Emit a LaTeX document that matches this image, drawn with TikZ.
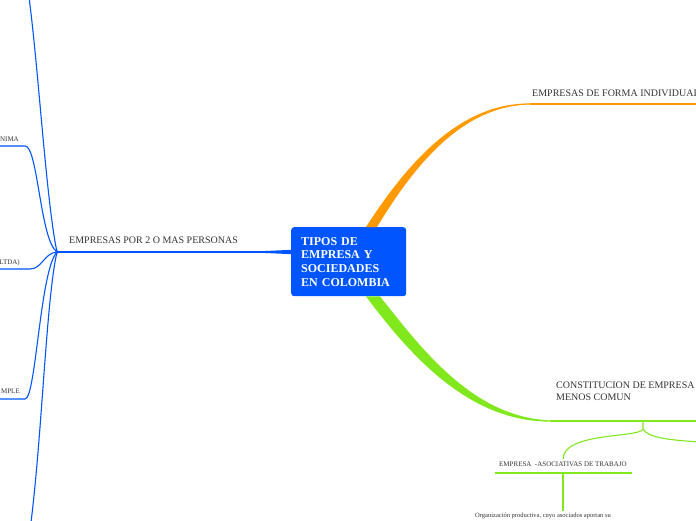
\documentclass[tikz,border=0pt]{standalone}
\usepackage{fontspec}
\setmainfont{Liberation Serif}
\usetikzlibrary{positioning,calc}
\definecolor{mapblue}{RGB}{0,85,255}
\definecolor{maporange}{RGB}{255,153,0}
\definecolor{mapgreen}{RGB}{130,232,30}
\definecolor{maptext}{RGB}{51,51,51}
\tikzset{
  rootbox/.style={fill=mapblue, rounded corners=3pt, text=white, align=left,
    font=\fontsize{12}{13.7}\selectfont\bfseries, text width=95pt,
    minimum height=69pt, inner xsep=10pt, anchor=north west},
  mainlabel/.style={text=maptext, font=\fontsize{10}{12.7}\selectfont,
    inner sep=0pt, anchor=base west, align=left},
  sublabel/.style={text=maptext, font=\fontsize{7}{8}\selectfont, inner sep=0pt},
  notelabel/.style={text=maptext, font=\fontsize{6.5}{7.5}\selectfont, inner sep=0pt, anchor=base west},
  blueline/.style={mapblue, line width=1.1pt},
  orangeline/.style={maporange, line width=1.1pt},
  greenline/.style={mapgreen, line width=1.1pt},
}

\begin{document}
\begin{tikzpicture}[x=1pt, y=-1pt]
  \useasboundingbox (0,0) rectangle (696,520);
  \clip (0,0) rectangle (696,520);

  % central topic
  \node[rootbox] (root) at (291,227) {TIPOS DE\\EMPRESA Y\\SOCIEDADES\\EN COLOMBIA};

  % left branch
  \coordinate (hub) at (57,252);
  \node[mainlabel] (multi) at (69,243) {EMPRESAS POR 2 O MAS PERSONAS};
  \draw[blueline] (hub) -- (hub -| root.west);
  \fill[mapblue] ($(hub -| root.west)+(-48,0)$) -- ($(hub -| root.west)+(1,-2.2)$)
    -- ($(hub -| root.west)+(1,2.2)$) -- cycle;
  \fill[mapblue] (hub) circle[radius=1.8pt];

  \node[sublabel, anchor=base east] (anon) at (19,141) {NIMA};
  \node[sublabel, anchor=base east] (ltda) at (20,264) {LTDA)};
  \node[sublabel, anchor=base east] (simple) at (20,393) {MPLE};
  \coordinate (anonL) at (0,146);   \coordinate (anonR) at (25,146);
  \coordinate (ltdaL) at (0,269);   \coordinate (ltdaR) at (30,269);
  \coordinate (simpleL) at (0,399); \coordinate (simpleR) at (25,399);
  \coordinate (upEnd) at (28,-10);
  \coordinate (downEnd) at (30,530);

  \draw[blueline] (hub) .. controls (46,200) and (38,60) .. (upEnd);
  \draw[blueline] (anonL) -- (anonR) .. controls (38,146) and (40,240) .. (hub);
  \draw[blueline] (ltdaL) -- (ltdaR) .. controls (42,269) and (44,253) .. (hub);
  \draw[blueline] (simpleL) -- (simpleR) .. controls (36,399) and (40,270) .. (hub);
  \draw[blueline] (hub) .. controls (46,300) and (42,440) .. (downEnd);

  % upper right branch
  \coordinate (indivL) at (530,104);
  \coordinate (indivR) at (700,104);
  \coordinate (oStart) at ($(root.north west)+(80,0)$);
  \node[mainlabel] (indiv) at (532,96) {EMPRESAS DE FORMA INDIVIDUAL};
  \fill[maporange] ($(oStart)+(-5,0)$) .. controls (408,162) and (460,103) .. ($(indivL)+(0,-0.6)$)
    -- ($(indivL)+(0,0.6)$) .. controls (462,105.5) and (414,166) .. ($(oStart)+(6,0)$) -- cycle;
  \draw[orangeline] (indivL) -- (indivR);

  % lower right branch
  \coordinate (comunL) at (550,421);
  \coordinate (comunR) at (700,421);
  \coordinate (gStart) at ($(root.south west)+(82,0)$);
  \node[mainlabel] (comun) at (556,400.7) {CONSTITUCION DE EMPRESA\\MENOS COMUN};
  \fill[mapgreen] ($(gStart)+(-7,0)$) .. controls (412,358) and (470,421.6) .. ($(comunL)+(0,0.6)$)
    -- ($(comunL)+(0,-0.6)$) .. controls (474,417) and (424,352) .. ($(gStart)+(7,0)$) -- cycle;
  \draw[greenline] (comunL) -- (comunR);

  \coordinate (fork) at (643,421);
  \coordinate (forkLow) at (643,429);
  \coordinate (assocTop) at (563,459);
  \coordinate (rightEnd) at (700,442);
  \node[sublabel, anchor=base west] (assoc) at (499,466) {EMPRESA \ -ASOCIATIVAS DE TRABAJO};
  \draw[greenline] (fork) -- (forkLow) .. controls (640,438) and (563,432) .. (assocTop);
  \draw[greenline] (forkLow) .. controls (648,438) and (670,440) .. (rightEnd);
  \draw[greenline] ($(assoc.base west)+(-4,7)$) coordinate (assocUL) -- ($(assoc.base east)+(5,7)$);
  \node[notelabel] (assocNote) at (475,517) {Organización productiva, cuyo asociados aportan su};
  \draw[greenline] (assocUL -| assocTop) -- ($(assocNote.north -| assocTop)+(0,-1)$);
\end{tikzpicture}
\end{document}
